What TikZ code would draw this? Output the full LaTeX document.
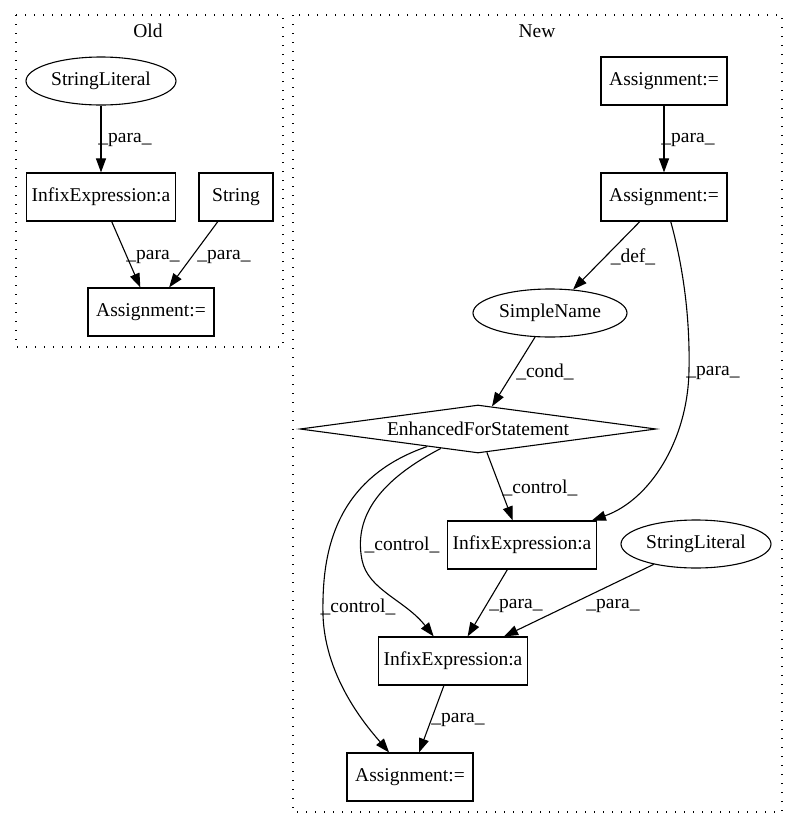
\documentclass[tikz,border=0pt]{standalone}
\usepackage{fontspec}
\setmainfont{Liberation Serif}
\usetikzlibrary{arrows.meta,shapes.geometric}
\begin{document}
\begin{tikzpicture}[x=1pt,y=-1pt,
  every node/.style={font=\fontsize{19.5}{22}\selectfont},
  box/.style={draw,line width=1.15pt,rectangle,minimum height=48pt,inner sep=0pt},
  oval/.style={draw,line width=1.1pt,ellipse,minimum width=150pt,minimum height=48pt,inner sep=0pt},
  dia/.style={draw,line width=1.1pt,diamond,aspect=7.4,minimum width=356pt,minimum height=48pt,inner sep=0pt},
  edge/.style={draw,line width=1.1pt,-{Triangle[length=14pt,width=10pt]}},
  elabel/.style={inner sep=0pt},
  cluster/.style={draw,line width=1.3pt,dash pattern=on 1.4pt off 7.6pt}]
\useasboundingbox (0,0) rectangle (797,828);
% clusters
\draw[cluster] (16,15) rectangle (283,347);
\node (oldlbl) at (148,31) {Old};
\draw[cluster] (293,15) rectangle (782,812);
\node (newlbl) at (537,31) {New};
% Old nodes
\node[oval] (osl) at (101,81) {StringLiteral};
\node[box,minimum width=149pt] (oinf) at (101,197) {InfixExpression:a};
\node[box,minimum width=74pt] (ostr) at (236,197) {String};
\node[box,minimum width=126pt] (oas) at (151,312) {Assignment:=};
% New nodes
\node[box,minimum width=126pt] (a1) at (664,81) {Assignment:=};
\node[box,minimum width=126pt] (a2) at (664,197) {Assignment:=};
\node[oval,minimum width=154pt] (sn) at (550,313) {SimpleName};
\node[dia] (efs) at (478,429) {EnhancedForStatement};
\node[box,minimum width=149pt] (imid) at (522,545) {InfixExpression:a};
\node[oval] (sl2) at (696,544) {StringLiteral};
\node[box,minimum width=149pt] (ilow) at (453,661) {InfixExpression:a};
\node[box,minimum width=126pt] (ab) at (410,777) {Assignment:=};
% Old edges
\draw[edge] (osl) -- (oinf);
\node[elabel] (l1) at (125,140) {\_para\_};
\draw[edge] (oinf) -- (oas);
\node[elabel] (l2) at (153,257) {\_para\_};
\draw[edge] (ostr) -- (oas);
\node[elabel] (l3) at (224,257) {\_para\_};
% New edges
\draw[edge] (a1) -- (a2);
\node[elabel] (l4) at (688,140) {\_para\_};
\draw[edge] (a2) -- (sn);
\node[elabel] (l5) at (633,257) {\_def\_};
\draw[edge] (a2) .. controls (684,270) and (690,320) .. (689,370) .. controls (688,440) and (650,500) .. (imid);
\node[elabel] (l6) at (713,373) {\_para\_};
\draw[edge] (sn) -- (efs);
\node[elabel] (l7) at (545,372) {\_cond\_};
\draw[edge] (efs) -- (imid);
\node[elabel] (l8) at (540,488) {\_control\_};
\draw[edge] (efs) .. controls (390,475) and (352,510) .. (362,560) .. controls (368,590) and (405,600) .. (ilow);
\node[elabel] (l9) at (402,545) {\_control\_};
\draw[edge] (efs) .. controls (330,480) and (322,560) .. (323,615) .. controls (325,680) and (370,730) .. (ab);
\node[elabel] (l10) at (358,607) {\_control\_};
\draw[edge] (imid) -- (ilow);
\node[elabel] (l11) at (516,606) {\_para\_};
\draw[edge] (sl2) -- (ilow);
\node[elabel] (l12) at (613,606) {\_para\_};
\draw[edge] (ilow) -- (ab);
\node[elabel] (l13) at (458,720) {\_para\_};
\end{tikzpicture}
\end{document}
